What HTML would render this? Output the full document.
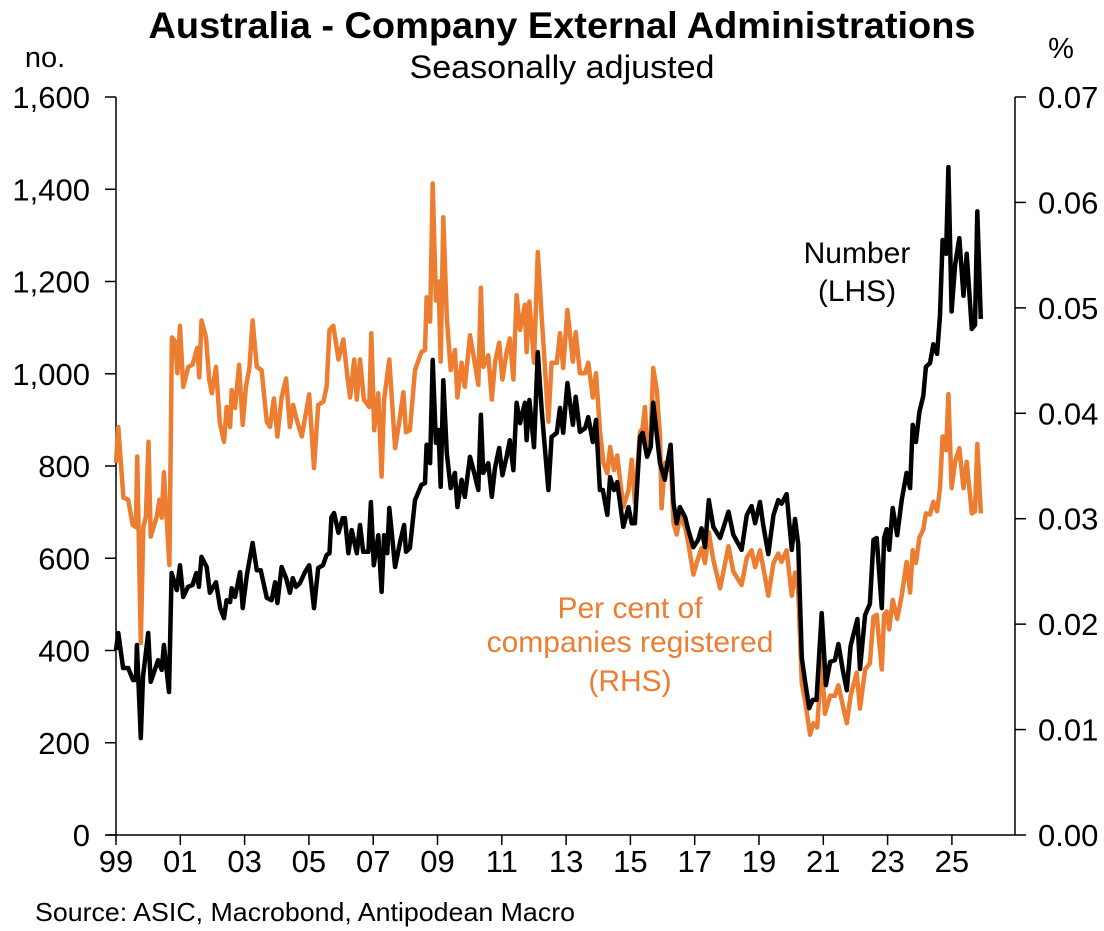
<!DOCTYPE html>
<html><head><meta charset="utf-8"><style>
html,body{margin:0;padding:0;background:#fff;}
svg{display:block;font-family:"Liberation Sans",Arial,sans-serif;}
</style></head><body>
<svg id="chart" width="1104" height="931" viewBox="0 0 1104 931" xmlns="http://www.w3.org/2000/svg">
<text x="562" y="38" text-anchor="middle" font-size="37" font-weight="bold" fill="#000" textLength="827" lengthAdjust="spacingAndGlyphs">Australia - Company External Administrations</text>
<text x="562" y="78" text-anchor="middle" font-size="32" fill="#000" textLength="305" lengthAdjust="spacingAndGlyphs">Seasonally adjusted</text>
<text x="45" y="67" text-anchor="middle" font-size="29" fill="#000">no.</text>
<text x="1061" y="58" text-anchor="middle" font-size="29" fill="#000">%</text>
<g id="axes"></g>
<g id="series"></g>
<text x="857" y="263" text-anchor="middle" font-size="30" fill="#000">Number</text>
<text x="857" y="301" text-anchor="middle" font-size="30" fill="#000">(LHS)</text>
<text x="630" y="618" text-anchor="middle" font-size="30" fill="#ED7D31">Per cent of</text>
<text x="630" y="652" text-anchor="middle" font-size="30" fill="#ED7D31">companies registered</text>
<text x="630" y="691" text-anchor="middle" font-size="30" fill="#ED7D31">(RHS)</text>
<text x="35" y="921" font-size="26" fill="#000" textLength="540" lengthAdjust="spacingAndGlyphs">Source: ASIC, Macrobond, Antipodean Macro</text>
</svg>
<script>
const leftTicks = [0,200,400,600,800,1000,1200,1400,1600];
const leftTickLabels = ["0","200","400","600","800","1,000","1,200","1,400","1,600"];
const rightTicks = [0,0.01,0.02,0.03,0.04,0.05,0.06,0.07];
const rightTickLabels = ["0.00","0.01","0.02","0.03","0.04","0.05","0.06","0.07"];
const xTickYears = [1999,2001,2003,2005,2007,2009,2011,2013,2015,2017,2019,2021,2023,2025];
const xTickLabels = ["99","01","03","05","07","09","11","13","15","17","19","21","23","25"];

const numYears = [1999.0,1999.07,1999.22,1999.38,1999.53,1999.62,1999.65,1999.77,1999.84,2000.0,2000.08,2000.31,2000.42,2000.49,2000.65,2000.73,2000.89,2000.99,2001.09,2001.24,2001.38,2001.5,2001.58,2001.66,2001.82,2001.92,2002.11,2002.24,2002.36,2002.44,2002.55,2002.6,2002.7,2002.86,2002.94,2003.07,2003.25,2003.38,2003.5,2003.69,2003.84,2003.95,2004.02,2004.15,2004.29,2004.41,2004.5,2004.6,2004.72,2004.88,2005.01,2005.16,2005.29,2005.44,2005.55,2005.64,2005.7,2005.78,2005.92,2006.05,2006.12,2006.23,2006.33,2006.49,2006.59,2006.69,2006.85,2006.93,2007.02,2007.16,2007.26,2007.34,2007.44,2007.5,2007.68,2007.83,2007.96,2008.02,2008.14,2008.3,2008.5,2008.61,2008.66,2008.77,2008.85,2008.95,2009.03,2009.1,2009.18,2009.29,2009.41,2009.54,2009.62,2009.75,2009.85,2010.01,2010.14,2010.27,2010.35,2010.42,2010.58,2010.69,2010.79,2010.92,2011.02,2011.15,2011.25,2011.36,2011.46,2011.57,2011.72,2011.77,2011.86,2012.0,2012.12,2012.24,2012.45,2012.55,2012.71,2012.81,2012.91,2013.04,2013.21,2013.3,2013.43,2013.59,2013.69,2013.83,2013.93,2014.05,2014.14,2014.28,2014.37,2014.49,2014.59,2014.78,2014.94,2015.04,2015.14,2015.3,2015.38,2015.52,2015.63,2015.71,2015.92,2016.07,2016.15,2016.25,2016.34,2016.44,2016.54,2016.7,2016.8,2016.96,2017.11,2017.21,2017.32,2017.44,2017.58,2017.79,2018.05,2018.2,2018.46,2018.62,2018.77,2018.88,2019.03,2019.13,2019.29,2019.45,2019.6,2019.7,2019.86,2020.02,2020.12,2020.22,2020.33,2020.43,2020.56,2020.67,2020.79,2020.95,2021.08,2021.21,2021.36,2021.47,2021.6,2021.73,2021.85,2022.06,2022.14,2022.3,2022.45,2022.56,2022.66,2022.82,2022.89,2022.97,2023.05,2023.16,2023.3,2023.44,2023.59,2023.7,2023.78,2023.88,2023.99,2024.11,2024.19,2024.32,2024.42,2024.54,2024.63,2024.71,2024.82,2024.89,2024.99,2025.1,2025.23,2025.36,2025.46,2025.62,2025.72,2025.79,2025.9];
const numValues = [401,438,362,362,336,336,412,210,343,438,332,379,358,412,310,568,531,585,516,538,542,568,538,603,581,525,548,492,470,509,505,535,516,570,492,564,633,574,574,514,509,548,503,581,557,525,557,538,546,570,585,492,579,585,607,611,689,698,655,687,687,611,661,611,672,614,614,722,585,650,527,650,611,709,581,633,672,614,622,726,759,763,846,806,1030,850,878,755,986,828,752,785,711,770,733,820,785,748,911,785,806,733,796,839,780,820,856,791,937,893,937,856,943,841,1047,921,748,863,872,926,872,980,889,950,874,882,906,852,900,748,748,694,776,748,765,668,711,676,676,863,872,820,841,937,806,770,806,846,720,676,711,689,661,624,640,665,624,726,668,644,701,651,618,694,713,676,722,672,609,694,726,718,739,618,685,631,384,334,275,293,293,481,325,375,379,414,360,314,410,468,360,477,501,640,644,492,644,663,618,709,650,726,785,752,889,852,917,952,1015,1023,1064,1043,1127,1290,1260,1448,1135,1236,1294,1169,1260,1097,1106,1352,1119];

const pctYears = [1999.0,1999.07,1999.23,1999.38,1999.52,1999.62,1999.66,1999.77,1999.85,1999.93,2000.01,2000.08,2000.27,2000.35,2000.42,2000.49,2000.66,2000.74,2000.84,2000.91,2000.99,2001.09,2001.25,2001.38,2001.53,2001.59,2001.66,2001.8,2001.9,2001.98,2002.11,2002.23,2002.36,2002.44,2002.55,2002.6,2002.7,2002.83,2002.94,2003.04,2003.15,2003.25,2003.38,2003.53,2003.69,2003.79,2003.91,2004.02,2004.15,2004.29,2004.41,2004.51,2004.62,2004.78,2005.01,2005.16,2005.29,2005.45,2005.55,2005.64,2005.76,2005.92,2006.07,2006.2,2006.28,2006.41,2006.49,2006.59,2006.71,2006.88,2006.94,2007.03,2007.16,2007.26,2007.34,2007.5,2007.68,2007.83,2007.94,2008.02,2008.14,2008.3,2008.5,2008.61,2008.66,2008.77,2008.85,2008.95,2009.03,2009.1,2009.18,2009.29,2009.41,2009.54,2009.62,2009.75,2009.85,2010.01,2010.14,2010.27,2010.35,2010.42,2010.58,2010.69,2010.79,2010.92,2011.02,2011.15,2011.25,2011.36,2011.46,2011.57,2011.72,2011.77,2011.86,2012.0,2012.12,2012.24,2012.45,2012.55,2012.71,2012.81,2012.91,2013.04,2013.21,2013.3,2013.43,2013.59,2013.69,2013.83,2013.93,2014.05,2014.16,2014.28,2014.37,2014.49,2014.59,2014.78,2014.94,2015.04,2015.14,2015.3,2015.38,2015.45,2015.52,2015.63,2015.71,2015.82,2015.92,2015.97,2016.07,2016.15,2016.25,2016.34,2016.44,2016.54,2016.7,2016.8,2016.96,2017.06,2017.21,2017.32,2017.44,2017.58,2017.79,2018.05,2018.2,2018.46,2018.62,2018.77,2018.88,2019.03,2019.13,2019.29,2019.45,2019.6,2019.7,2019.86,2020.02,2020.12,2020.22,2020.33,2020.43,2020.59,2020.69,2020.81,2020.95,2021.05,2021.21,2021.36,2021.47,2021.6,2021.73,2021.85,2022.04,2022.14,2022.3,2022.45,2022.56,2022.66,2022.82,2022.89,2022.97,2023.05,2023.16,2023.3,2023.44,2023.59,2023.7,2023.78,2023.88,2023.99,2024.11,2024.19,2024.32,2024.42,2024.54,2024.63,2024.71,2024.82,2024.89,2024.99,2025.1,2025.23,2025.36,2025.46,2025.62,2025.72,2025.79,2025.9];
const pctValues = [0.0353,0.0387,0.0320,0.0318,0.0294,0.0292,0.0359,0.0182,0.0292,0.0302,0.0373,0.0283,0.0302,0.0318,0.0301,0.0344,0.0256,0.0472,0.0468,0.0438,0.0483,0.0425,0.0444,0.0446,0.0462,0.0434,0.0488,0.0472,0.0432,0.0419,0.0444,0.0391,0.0373,0.0406,0.0387,0.0422,0.0405,0.0446,0.0389,0.0425,0.0443,0.0488,0.0444,0.0441,0.0392,0.0387,0.0414,0.0378,0.0415,0.0433,0.0387,0.0408,0.0394,0.0378,0.0418,0.0348,0.0408,0.0411,0.0425,0.0479,0.0483,0.0451,0.0470,0.0434,0.0415,0.0451,0.0413,0.0451,0.0413,0.0406,0.0476,0.0384,0.0419,0.0340,0.0413,0.0451,0.0367,0.0396,0.0420,0.0382,0.0384,0.0441,0.0458,0.0460,0.0510,0.0487,0.0618,0.0507,0.0525,0.0449,0.0586,0.0491,0.0441,0.0460,0.0415,0.0448,0.0425,0.0474,0.0451,0.0427,0.0519,0.0444,0.0455,0.0413,0.0448,0.0467,0.0432,0.0458,0.0471,0.0432,0.0512,0.0479,0.0503,0.0458,0.0506,0.0448,0.0553,0.0491,0.0392,0.0448,0.0448,0.0476,0.0443,0.0498,0.0449,0.0477,0.0438,0.0438,0.0448,0.0415,0.0438,0.0384,0.0353,0.0343,0.0368,0.0346,0.0360,0.0311,0.0327,0.0356,0.0315,0.0382,0.0386,0.0406,0.0368,0.0378,0.0443,0.0422,0.0378,0.0310,0.0353,0.0346,0.0359,0.0296,0.0285,0.0302,0.0292,0.0277,0.0247,0.0258,0.0272,0.0258,0.0287,0.0261,0.0234,0.0274,0.0250,0.0237,0.0263,0.0270,0.0254,0.0270,0.0254,0.0227,0.0258,0.0267,0.0259,0.0270,0.0227,0.0249,0.0232,0.0144,0.0128,0.0095,0.0106,0.0102,0.0168,0.0115,0.0132,0.0132,0.0142,0.0124,0.0106,0.0132,0.0154,0.0120,0.0157,0.0163,0.0207,0.0209,0.0157,0.0209,0.0212,0.0195,0.0223,0.0205,0.0227,0.0259,0.0230,0.0270,0.0258,0.0282,0.0290,0.0305,0.0304,0.0316,0.0307,0.0329,0.0378,0.0365,0.0418,0.0329,0.0354,0.0367,0.0329,0.0354,0.0305,0.0307,0.0371,0.0305];

const NS = "http://www.w3.org/2000/svg";
const X0 = 116, PX_PER_YEAR = 32.15, Y0 = 835, YTOP = 97, XRIGHT = 1015;
function xScale(yr){ return X0 + (yr - 1999) * PX_PER_YEAR; }
function yLeft(v){ return Y0 - (v / 1600) * (Y0 - YTOP); }
function yRight(v){ return Y0 - (v / 0.07) * (Y0 - YTOP); }
function mk(tag, attrs, parent){
  const el = document.createElementNS(NS, tag);
  for (const k in attrs) el.setAttribute(k, attrs[k]);
  parent.appendChild(el);
  return el;
}
const axes = document.getElementById('axes');
const series = document.getElementById('series');

let el = mk('line', {x1:X0, y1:YTOP, x2:X0, y2:Y0, stroke:'#000', 'stroke-width':1.5}, axes);


el = mk('line', {x1:XRIGHT, y1:YTOP, x2:XRIGHT, y2:Y0, stroke:'#000', 'stroke-width':1.5}, axes);


el = mk('line', {x1:107, y1:Y0, x2:XRIGHT, y2:Y0, stroke:'#000', 'stroke-width':1.5}, axes);



leftTicks.forEach((v, i) => {
  const y = yLeft(v);
  const t = mk('line', {x1:105, y1:y, x2:X0, y2:y, stroke:'#000', 'stroke-width':1.5}, axes);
  
  
  const lb = mk('text', {x:90, y:y + 11, 'text-anchor':'end', 'font-size':31, fill:'#000'}, axes);
  lb.textContent = leftTickLabels[i];
  
  
});
rightTicks.forEach((v, i) => {
  const y = yRight(v);
  const t = mk('line', {x1:XRIGHT, y1:y, x2:1026, y2:y, stroke:'#000', 'stroke-width':1.5}, axes);
  
  
  const lb = mk('text', {x:1038, y:y + 11, 'text-anchor':'start', 'font-size':31, fill:'#000'}, axes);
  lb.textContent = rightTickLabels[i];
  
  
});
xTickYears.forEach((yr, i) => {
  const x = xScale(yr);
  const t = mk('line', {x1:x, y1:Y0, x2:x, y2:845, stroke:'#000', 'stroke-width':1.5}, axes);
  
  
  const lb = mk('text', {x:x, y:872, 'text-anchor':'middle', 'font-size':31, fill:'#000'}, axes);
  lb.textContent = xTickLabels[i];
  
  
});

const pctPts = pctYears.map((yr, i) => xScale(yr).toFixed(1) + ',' + yRight(pctValues[i]).toFixed(1)).join(' ');
const pctLine = mk('polyline', {points:pctPts, fill:'none', stroke:'#ED7D31', 'stroke-width':4.5, 'stroke-linejoin':'round'}, series);



const numPts = numYears.map((yr, i) => xScale(yr).toFixed(1) + ',' + yLeft(numValues[i]).toFixed(1)).join(' ');
const numLine = mk('polyline', {points:numPts, fill:'none', stroke:'#000', 'stroke-width':4.5, 'stroke-linejoin':'round'}, series);


</script>
</body></html>
